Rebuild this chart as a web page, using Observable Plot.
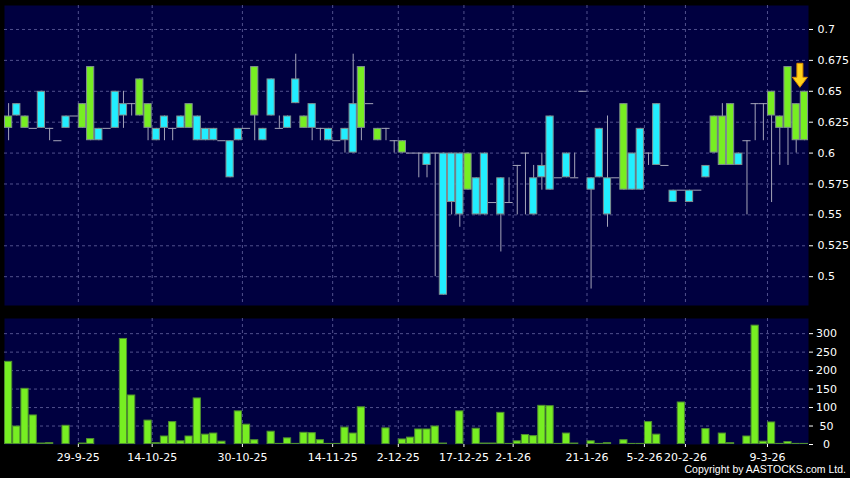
<!DOCTYPE html>
<html><head><meta charset="utf-8">
<script src="https://cdn.jsdelivr.net/npm/d3@7"></script>
<script src="https://cdn.jsdelivr.net/npm/@observablehq/plot@0.6"></script>
<style>
html,body{margin:0;padding:0;background:#000;}
#chart{position:relative;width:850px;height:478px;background:#000;overflow:hidden;}
#chart svg{display:block;}
#copy{position:absolute;right:4px;top:463px;color:#fff;font:10.5px "Liberation Sans",Arial,sans-serif;white-space:nowrap;}
</style></head><body>
<div id="chart"><div id="copy">Copyright by AASTOCKS.com Ltd.</div></div>
<script>
// Daily OHLC (one entry per trading session, oldest first)
const open  = [0.62,0.64,0.62,0.62,0.65,0.62,0.61,0.63,0.63,0.62, 0.61,0.62,0.62,0.65,0.64,0.64,0.63,0.62,0.62,0.63, 0.62,0.63,0.62,0.63,0.62,0.62,0.61,0.61,0.62,0.62, 0.63,0.62,0.66,0.62,0.63,0.66,0.62,0.64,0.62,0.62, 0.61,0.62,0.64,0.62,0.64,0.61,0.62,0.61,0.60,0.60, 0.60,0.60,0.60,0.60,0.60,0.60,0.57,0.58,0.60,0.56, 0.58,0.56,0.59,0.60,0.58,0.59,0.63,0.58,0.60,0.58, 0.65,0.58,0.62,0.58,0.58,0.57,0.60,0.62,0.60,0.64, 0.59,0.57,0.57,0.57,0.57,0.59,0.60,0.59,0.59,0.60, 0.61,0.64,0.64,0.63,0.62,0.62,0.61,0.61];
const high  = [0.64,0.64,0.63,0.62,0.65,0.62,0.61,0.63,0.63,0.64, 0.67,0.62,0.62,0.65,0.65,0.64,0.66,0.64,0.62,0.63, 0.62,0.63,0.64,0.63,0.62,0.62,0.61,0.61,0.62,0.62, 0.67,0.62,0.66,0.63,0.63,0.68,0.63,0.64,0.62,0.62, 0.61,0.62,0.68,0.67,0.64,0.62,0.62,0.61,0.61,0.60, 0.60,0.60,0.60,0.60,0.60,0.60,0.60,0.58,0.60,0.56, 0.58,0.58,0.59,0.60,0.59,0.60,0.63,0.58,0.60,0.60, 0.65,0.58,0.62,0.63,0.58,0.64,0.60,0.62,0.60,0.64, 0.59,0.57,0.57,0.57,0.57,0.59,0.63,0.64,0.64,0.60, 0.61,0.64,0.64,0.65,0.63,0.67,0.64,0.65];
const low   = [0.61,0.63,0.62,0.62,0.62,0.61,0.61,0.62,0.63,0.62, 0.61,0.61,0.62,0.62,0.62,0.63,0.63,0.61,0.61,0.61, 0.61,0.62,0.62,0.61,0.61,0.61,0.61,0.58,0.61,0.62, 0.61,0.61,0.63,0.62,0.62,0.64,0.62,0.61,0.61,0.61, 0.61,0.60,0.60,0.61,0.64,0.61,0.61,0.60,0.60,0.60, 0.58,0.58,0.50,0.485,0.55,0.54,0.57,0.55,0.55,0.56, 0.52,0.56,0.55,0.55,0.55,0.57,0.57,0.58,0.58,0.58, 0.65,0.49,0.58,0.54,0.58,0.57,0.57,0.57,0.59,0.59, 0.59,0.56,0.57,0.56,0.57,0.58,0.60,0.59,0.59,0.59, 0.55,0.61,0.61,0.56,0.59,0.59,0.60,0.61];
const close = [0.63,0.63,0.63,0.62,0.62,0.62,0.61,0.62,0.63,0.64, 0.67,0.61,0.62,0.62,0.63,0.64,0.66,0.64,0.61,0.62, 0.62,0.62,0.64,0.61,0.61,0.61,0.61,0.58,0.61,0.62, 0.67,0.61,0.63,0.62,0.62,0.64,0.63,0.62,0.62,0.61, 0.61,0.61,0.60,0.67,0.64,0.62,0.62,0.61,0.61,0.60, 0.60,0.59,0.60,0.485,0.56,0.55,0.60,0.55,0.55,0.56, 0.55,0.56,0.59,0.60,0.55,0.58,0.57,0.58,0.58,0.58, 0.65,0.57,0.58,0.55,0.58,0.64,0.57,0.57,0.60,0.59, 0.59,0.56,0.57,0.56,0.57,0.58,0.63,0.63,0.64,0.59, 0.61,0.64,0.64,0.65,0.63,0.67,0.64,0.65];
// Volume (in thousands of shares, approximate)
const volume = [225,50,152,80,4,5,1,52,0,4, 16,2,2,2,287,134,1,66,5,23, 62,10,23,126,28,31,9,2,91,55, 13,1,36,3,18,3,33,32,13,3, 3,47,31,102,0,1,45,0,15,20, 42,42,50,4,2,91,1,44,4,4, 87,3,10,27,24,106,105,3,31,4, 0,10,3,5,2,13,3,3,62,28, 1,2,115,1,0,43,1,31,5,1, 23,323,9,61,3,8,3,3];
// Date labels and the session index they belong to
const tickIndex  = [8, 17, 28, 39, 47, 55, 61, 70, 77, 82, 92];
const tickLabels = ["29-9-25","14-10-25","30-10-25","14-11-25","2-12-25","17-12-25","2-1-26","21-1-26","5-2-26","20-2-26","9-3-26"];
const priceTicks = [0.5,0.525,0.55,0.575,0.6,0.625,0.65,0.675,0.7];
const volumeTicks = [0,50,100,150,200,250,300];

const UP = "#77ee22", DOWN = "#22eeff", BG = "#000040", GRID = "#50508c", WICK = "#a4a4b8", EDGE = "#7f8f8f";
const n = close.length;
const candles = d3.range(n).map(i => ({i, o: open[i], h: high[i], l: low[i], c: close[i]}));
const vols = d3.range(n).map(i => ({i, v: volume[i]}));
const xDomain = [-0.5, n - 0.5];
const tickPos = tickIndex.map(i => i + 0.5);
const labelAt = new Map(tickPos.map((p, k) => [p, tickLabels[k]]));
const font = {background: "#000", color: "#fff", fontFamily: "DejaVu Sans, sans-serif", fontSize: "11px", overflow: "visible"};
const gridStyle = {stroke: GRID, strokeOpacity: 1, strokeDasharray: "3,3"};

const arrowSymbol = {
  draw(ctx, size) {
    const k = Math.sqrt(size / Math.PI) / 8;
    ctx.moveTo(-3*k, -12*k); ctx.lineTo(3*k, -12*k); ctx.lineTo(3*k, 2*k);
    ctx.lineTo(7.5*k, 2*k); ctx.lineTo(0, 12*k); ctx.lineTo(-7.5*k, 2*k);
    ctx.lineTo(-3*k, 2*k); ctx.closePath();
  }
};

const price = Plot.plot({
  width: 850, height: 310,
  marginLeft: 4, marginRight: 42, marginTop: 5, marginBottom: 5,
  style: font,
  x: {domain: xDomain, axis: null},
  y: {domain: [0.4767, 0.7194], axis: null},
  marks: [
    Plot.frame({fill: BG, stroke: null}),
    Plot.gridY(priceTicks, gridStyle),
    Plot.gridX(tickPos, gridStyle),
    Plot.axisY(priceTicks, {anchor: "right", label: null, tickSize: 4, tickPadding: 5, tickFormat: d => String(d), stroke: "#fff", fill: "#fff"}),
    Plot.ruleX(candles.filter(d => d.h > d.l), {x: "i", y1: "l", y2: "h", stroke: WICK}),
    Plot.ruleY(candles.filter(d => d.o === d.c), {y: "c", x1: d => d.i - 0.5, x2: d => d.i + 0.5, stroke: WICK}),
    Plot.rect(candles.filter(d => d.o !== d.c), {
      x1: d => d.i - 0.5, x2: d => d.i + 0.5, y1: "o", y2: "c",
      fill: d => d.c > d.o ? UP : DOWN, stroke: EDGE, strokeWidth: 1, inset: 0.5
    }),
    Plot.dot(candles.slice(-1), {x: "i", y: "h", symbol: arrowSymbol, r: 8, dx: -4.5, dy: -16, fill: "#ffd21a", stroke: "#d98a00", strokeWidth: 1})
  ]
});

const vol = Plot.plot({
  width: 850, height: 168,
  marginLeft: 4, marginRight: 42, marginTop: 8, marginBottom: 34,
  style: font,
  x: {domain: xDomain, axis: null},
  y: {domain: [0, 341], axis: null},
  marks: [
    Plot.frame({fill: BG, stroke: null}),
    Plot.gridY(volumeTicks.filter(v => v > 0), gridStyle),
    Plot.gridX(tickPos, gridStyle),
    Plot.axisY(volumeTicks, {anchor: "right", label: null, tickSize: 4, tickPadding: 14, textAnchor: "middle", stroke: "#fff", fill: "#fff"}),
    Plot.axisX(tickPos, {anchor: "bottom", label: null, tickSize: 3, tickPadding: 6, tickFormat: d => labelAt.get(d), stroke: "#fff", fill: "#fff"}),
    Plot.rectY(vols.filter(d => d.v > 0), {x1: d => d.i - 0.5, x2: d => d.i + 0.5, y: "v", fill: UP, stroke: "#4f8f2f", strokeWidth: 1, inset: 0.5})
  ]
});

const chart = document.getElementById("chart");
chart.insertBefore(vol, chart.firstChild);
chart.insertBefore(price, vol);
</script>
</body></html>
